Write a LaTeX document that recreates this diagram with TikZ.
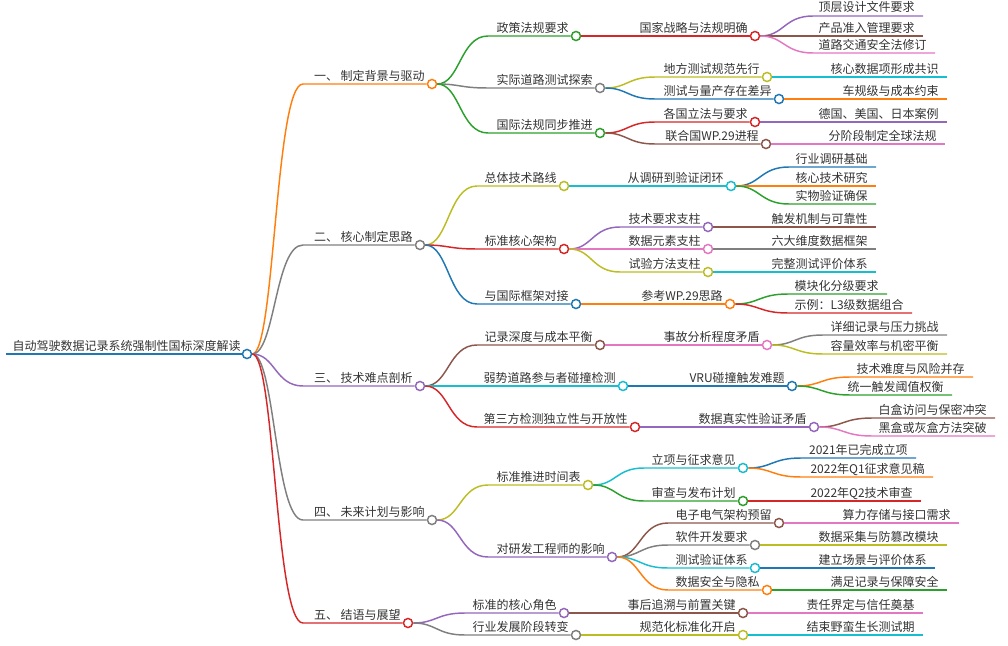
\documentclass[tikz,border=0pt]{standalone}
\usepackage{fontspec}
\setmainfont{Noto Sans CJK SC}
\usepackage{tikz}
\usetikzlibrary{calc}
\definecolor{mmblue}{HTML}{1F77B4}
\definecolor{mmorange}{HTML}{FF7F0E}
\definecolor{mmgreen}{HTML}{2CA02C}
\definecolor{mmred}{HTML}{D62728}
\definecolor{mmpurple}{HTML}{9467BD}
\definecolor{mmbrown}{HTML}{8C564B}
\definecolor{mmpink}{HTML}{E377C2}
\definecolor{mmgray}{HTML}{7F7F7F}
\definecolor{mmolive}{HTML}{BCBD22}
\definecolor{mmcyan}{HTML}{17BECF}
\definecolor{mmink}{HTML}{333333}
\tikzset{
  mmdot/.style={circle, draw=#1, fill=white, line width=1.1pt, minimum size=6.8pt, inner sep=0pt},
  mmtext/.style={text=mmink, font=\fontsize{9}{11}\selectfont, inner sep=0pt},
  mmline/.style={#1, line width=1.1pt}
}
% #1 name, #2 parent, #3 colour, #4 start of underline, #5 knob, #6 y, #7 text
\newcommand{\drawbranch}[7]{
  % Start of the underline and the knob at its end
  \coordinate (#1-s) at (#4,#6);
  \node[mmdot=#3] (#1) at (#5,#6) {};
  % Label on the underline, right up to the knob
  \node[mmtext, anchor=base east] (#1-t) at (#5-7,#6-4) {#7};
  % Curve out of the parent knob, then the underline
  \draw[mmline=#3] let \p1=(#2), \p2=(#1-s) in
    (#2) .. controls ({(\x1+\x2)/2},\y1) and ({(\x1+\x2)/2},\y2) .. (#1-s) -- (#1);
}
% Same as above, but the underline ends free
\newcommand{\drawleaf}[7]{
  \coordinate (#1-s) at (#4,#6);
  \coordinate (#1) at (#5,#6);
  \node[mmtext, anchor=base east] (#1-t) at (#5-8,#6-4) {#7};
  \draw[mmline=#3] let \p1=(#2), \p2=(#1-s) in
    (#2) .. controls ({(\x1+\x2)/2},\y1) and ({(\x1+\x2)/2},\y2) .. (#1-s) -- (#1);
}
\begin{document}
\begin{tikzpicture}[x=0.75pt, y=-0.75pt]
    \useasboundingbox (0,0) rectangle (1008,646);
    % Root
    \coordinate (r-s) at (6,354);
    \node[mmdot=mmblue] (r) at (247,354) {};
    \node[mmtext, anchor=base east] (r-t) at (241,350) {自动驾驶数据记录系统强制性国标深度解读};
    \draw[mmline=mmblue] (r-s) -- (r);
   %\drawbranch{name}{parent}{colour}{xs}{xe}{y}{text}
    \drawbranch{a}{r}{mmorange}{303}{432}{84}{一、 制定背景与驱动}
    \drawbranch{b}{r}{mmgray}{303}{420}{245}{二、 核心制定思路}
    \drawbranch{c}{r}{mmpurple}{303}{420}{386}{三、 技术难点剖析}
    \drawbranch{d}{r}{mmgray}{303}{432}{520}{四、 未来计划与影响}
    \drawbranch{e}{r}{mmred}{303}{408}{623}{五、 结语与展望}
    % One
    \drawbranch{a1}{a}{mmgreen}{488}{576}{36}{政策法规要求}
    \drawbranch{a1a}{a1}{mmred}{640}{755}{36}{国家战略与法规明确}
    \drawleaf{a1a1}{a1a}{mmpurple}{813}{923}{16}{顶层设计文件要求}
    \drawleaf{a1a2}{a1a}{mmbrown}{813}{923}{36}{产品准入管理要求}
    \drawleaf{a1a3}{a1a}{mmpink}{813}{935}{53}{道路交通安全法修订}
    \drawbranch{a2}{a}{mmgray}{488}{600}{88}{实际道路测试探索}
    \drawbranch{a2a}{a2}{mmolive}{655}{767}{77}{地方测试规范先行}
    \drawleaf{a2a1}{a2a}{mmcyan}{800}{947}{77}{核心数据项形成共识}
    \drawbranch{a2b}{a2}{mmblue}{655}{779}{99}{测试与量产存在差异}
    \drawleaf{a2b1}{a2b}{mmorange}{800}{947}{99}{车规级与成本约束}
    \drawbranch{a3}{a}{mmgreen}{488}{600}{133}{国际法规同步推进}
    \drawbranch{a3a}{a3}{mmred}{655}{755}{122}{各国立法与要求}
    \drawleaf{a3a1}{a3a}{mmpurple}{800}{947}{122}{德国、美国、日本案例}
    \drawbranch{a3b}{a3}{mmbrown}{655}{766}{144}{联合国WP.29进程}
    \drawleaf{a3b1}{a3b}{mmpink}{800}{945}{144}{分阶段制定全球法规}
    % Two
    \drawbranch{b1}{b}{mmolive}{477}{564}{186}{总体技术路线}
    \drawbranch{b1a}{b1}{mmcyan}{620}{731}{186}{从调研到验证闭环}
    \drawleaf{b1a1}{b1a}{mmblue}{789}{876}{167}{行业调研基础}
    \drawleaf{b1a2}{b1a}{mmorange}{789}{876}{186}{核心技术研究}
    \drawleaf{b1a3}{b1a}{mmgreen}{789}{876}{204}{实物验证确保}
    \drawbranch{b2}{b}{mmred}{477}{564}{249}{标准核心架构}
    \drawbranch{b2a}{b2}{mmpurple}{620}{708}{227}{技术要求支柱}
    \drawleaf{b2a1}{b2a}{mmbrown}{760}{876}{227}{触发机制与可靠性}
    \drawbranch{b2b}{b2}{mmpink}{620}{708}{249}{数据元素支柱}
    \drawleaf{b2b1}{b2b}{mmgray}{760}{876}{249}{六大维度数据框架}
    \drawbranch{b2c}{b2}{mmolive}{620}{708}{272}{试验方法支柱}
    \drawleaf{b2c1}{b2c}{mmcyan}{760}{876}{272}{完整测试评价体系}
    \drawbranch{b3}{b}{mmblue}{477}{576}{304}{与国际框架对接}
    \drawbranch{b3a}{b3}{mmorange}{630}{730}{304}{参考WP.29思路}
    \drawleaf{b3a1}{b3a}{mmgreen}{788}{887}{294}{模块化分级要求}
    \drawleaf{b3a2}{b3a}{mmred}{788}{912}{313}{示例：L3级数据组合}
    % Three
    \drawbranch{c1}{c}{mmbrown}{477}{600}{345}{记录深度与成本平衡}
    \drawbranch{c1a}{c1}{mmpink}{655}{767}{345}{事故分析程度矛盾}
    \drawleaf{c1a1}{c1a}{mmgray}{823}{947}{335}{详细记录与压力挑战}
    \drawleaf{c1a2}{c1a}{mmolive}{823}{947}{354}{容量效率与机密平衡}
    \drawbranch{c2}{c}{mmcyan}{477}{623}{386}{弱势道路参与者碰撞检测}
    \drawbranch{c2a}{c2}{mmblue}{680}{792}{386}{VRU碰撞触发难题}
    \drawleaf{c2a1}{c2a}{mmorange}{850}{973}{377}{技术难度与风险并存}
    \drawleaf{c2a2}{c2a}{mmgreen}{850}{952}{395}{统一触发阈值权衡}
    \drawbranch{c3}{c}{mmred}{477}{635}{427}{第三方检测独立性与开放性}
    \drawbranch{c3a}{c3}{mmpurple}{700}{814}{427}{数据真实性验证矛盾}
    \drawleaf{c3a1}{c3a}{mmbrown}{872}{995}{418}{白盒访问与保密冲突}
    \drawleaf{c3a2}{c3a}{mmpink}{872}{995}{436}{黑盒或灰盒方法突破}
    % Four
    \drawbranch{d1}{d}{mmolive}{488}{588}{485}{标准推进时间表}
    \drawbranch{d1a}{d1}{mmcyan}{644}{743}{468}{立项与征求意见}
    \drawleaf{d1a1}{d1a}{mmblue}{801}{916}{458}{2021年已完成立项}
    \drawleaf{d1a2}{d1a}{mmorange}{801}{933}{477}{2022年Q1征求意见稿}
    \drawbranch{d1b}{d1}{mmgreen}{644}{743}{501}{审查与发布计划}
    \drawleaf{d1b1}{d1b}{mmred}{801}{921}{501}{2022年Q2技术审查}
    \drawbranch{d2}{d}{mmpurple}{488}{612}{557}{对研发工程师的影响}
    \drawbranch{d2a}{d2}{mmbrown}{668}{779}{523}{电子电气架构预留}
    \drawleaf{d2a1}{d2a}{mmpink}{840}{959}{523}{算力存储与接口需求}
    \drawbranch{d2b}{d2}{mmgray}{668}{755}{545}{软件开发要求}
    \drawleaf{d2b1}{d2b}{mmolive}{840}{947}{545}{数据采集与防篡改模块}
    \drawbranch{d2c}{d2}{mmcyan}{668}{755}{568}{测试验证体系}
    \drawleaf{d2c1}{d2c}{mmblue}{840}{935}{568}{建立场景与评价体系}
    \drawbranch{d2d}{d2}{mmorange}{668}{767}{590}{数据安全与隐私}
    \drawleaf{d2d1}{d2d}{mmgreen}{840}{947}{590}{满足记录与保障安全}
    % Five
    \drawbranch{e1}{e}{mmpurple}{465}{564}{613}{标准的核心角色}
    \drawbranch{e1a}{e1}{mmbrown}{620}{743}{613}{事后追溯与前置关键}
    \drawleaf{e1a1}{e1a}{mmpink}{800}{923}{613}{责任界定与信任奠基}
    \drawbranch{e2}{e}{mmgray}{465}{576}{635}{行业发展阶段转变}
    \drawbranch{e2a}{e2}{mmolive}{620}{743}{635}{规范化标准化开启}
    \drawleaf{e2a1}{e2a}{mmcyan}{800}{923}{635}{结束野蛮生长测试期}
\end{tikzpicture}
\end{document}
